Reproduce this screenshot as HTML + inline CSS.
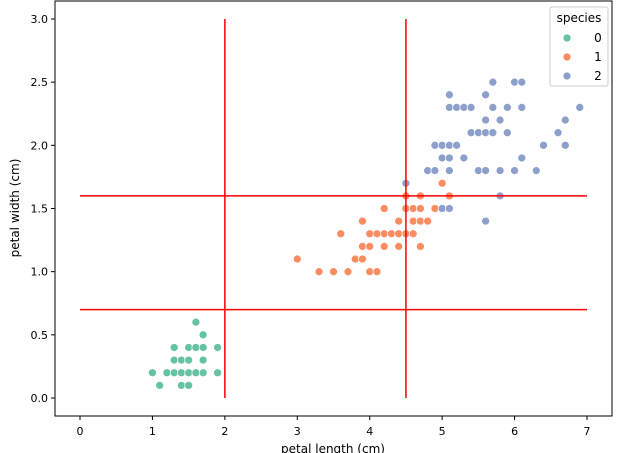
<!DOCTYPE html>
<html><head><meta charset="utf-8"><style>
html,body{margin:0;padding:0;background:#fff}
svg{display:block;font-family:"DejaVu Sans","Liberation Sans",sans-serif}
</style></head><body>
<svg id="chart" width="638" height="453">
<rect x="55" y="1" width="557" height="415" fill="none" stroke="#000" stroke-width="1"/>
<g id="marks"></g><g id="axes"></g>
<text x="333" y="453" text-anchor="middle" font-size="12">petal length (cm)</text>
<text transform="translate(19,208) rotate(-90)" text-anchor="middle" font-size="12">petal width (cm)</text>
<g>
<rect x="550" y="7" width="58" height="79" rx="2" fill="#fff" stroke="#ccc"/>
<text x="579" y="22" text-anchor="middle" font-size="12">species</text>
<g id="legend-entries"></g>
</g>
</svg>
<script>
const xTicks=[0,1,2,3,4,5,6,7];
const yTicks=[0.0,0.5,1.0,1.5,2.0,2.5,3.0];
const speciesLabels=["0","1","2"];
const speciesColors=["#66c2a5","#fc8d62","#8da0cb"];
const setosaLen=[1.0,1.1,1.2,1.3,1.3,1.3,1.4,1.4,1.4,1.5,1.5,1.5,1.5,1.6,1.6,1.6,1.7,1.7,1.7,1.7,1.9,1.9];
const setosaWid=[0.2,0.1,0.2,0.2,0.3,0.4,0.1,0.2,0.3,0.1,0.2,0.3,0.4,0.2,0.4,0.6,0.2,0.3,0.4,0.5,0.2,0.4];
const versiLen=[3.0,3.3,3.5,3.6,3.7,3.8,3.9,3.9,3.9,4.0,4.0,4.0,4.1,4.1,4.2,4.2,4.2,4.3,4.4,4.4,4.4,4.5,4.5,4.5,4.6,4.6,4.6,4.7,4.7,4.7,4.7,4.8,4.9,5.0,5.1];
const versiWid=[1.1,1.0,1.0,1.3,1.0,1.1,1.1,1.2,1.4,1.0,1.2,1.3,1.0,1.3,1.2,1.3,1.5,1.3,1.2,1.3,1.4,1.3,1.5,1.6,1.3,1.4,1.5,1.2,1.4,1.5,1.6,1.4,1.5,1.7,1.6];
const virgLen=[4.5,4.8,4.9,4.9,5.0,5.0,5.0,5.1,5.1,5.1,5.1,5.1,5.1,5.2,5.2,5.3,5.3,5.4,5.4,5.5,5.5,5.6,5.6,5.6,5.6,5.6,5.7,5.7,5.7,5.8,5.8,5.8,5.9,5.9,6.0,6.0,6.1,6.1,6.1,6.3,6.4,6.6,6.7,6.7,6.9];
const virgWid=[1.7,1.8,1.8,2.0,1.5,1.9,2.0,1.5,1.8,1.9,2.0,2.3,2.4,2.0,2.3,1.9,2.3,2.1,2.3,1.8,2.1,1.4,1.8,2.1,2.2,2.4,2.1,2.3,2.5,1.6,1.8,2.2,2.1,2.3,1.8,2.5,1.9,2.3,2.5,1.8,2.0,2.1,2.0,2.2,2.3];
const vLines=[2,4.5];
const hLines=[0.7,1.6];

const NS="http://www.w3.org/2000/svg";
const sx=v=>80+v*(587-80)/7;
const sy=v=>398-v*(398-19)/3;
function mk(tag,attrs,parent){const e=document.createElementNS(NS,tag);for(const k in attrs)e.setAttribute(k,attrs[k]);parent.appendChild(e);return e;}
const axes=document.getElementById('axes'),marks=document.getElementById('marks');
xTicks.forEach(t=>{
 const l=mk('line',{x1:sx(t),x2:sx(t),y1:416,y2:420,stroke:'#000'},axes);
 
 
 const tx=mk('text',{x:sx(t),y:435,'text-anchor':'middle','font-size':'11'},axes);tx.textContent=t;
 
 
});
yTicks.forEach(t=>{
 const l=mk('line',{x1:51,x2:55,y1:sy(t),y2:sy(t),stroke:'#000'},axes);
 
 
 const tx=mk('text',{x:48,y:sy(t)+4,'text-anchor':'end','font-size':'11'},axes);tx.textContent=t.toFixed(1);
 
 
});
const series=[[setosaLen,setosaWid],[versiLen,versiWid],[virgLen,virgWid]];
series.forEach((s,i)=>{
 s[0].forEach((x,j)=>{
  const c=mk('circle',{cx:sx(x),cy:sy(s[1][j]),r:4,fill:speciesColors[i],stroke:'#fff','stroke-width':0.7},marks);
  
  
 });
});
vLines.forEach(v=>{
 const l=mk('line',{x1:sx(v),x2:sx(v),y1:sy(0),y2:sy(3),stroke:'#f00','stroke-width':1.5},marks);
 
 
});
hLines.forEach(v=>{
 const l=mk('line',{x1:sx(0),x2:sx(7),y1:sy(v),y2:sy(v),stroke:'#f00','stroke-width':1.5},marks);
 
 
});
const le=document.getElementById('legend-entries');
speciesLabels.forEach((lab,i)=>{
 const y=38+i*19;
 const c=mk('circle',{cx:567,cy:y,r:4,fill:speciesColors[i],stroke:'#fff','stroke-width':0.7},le);
 
 
 const t=mk('text',{x:598,y:y+4,'text-anchor':'middle','font-size':'12'},le);t.textContent=lab;
 
 
});
</script>
</body></html>
